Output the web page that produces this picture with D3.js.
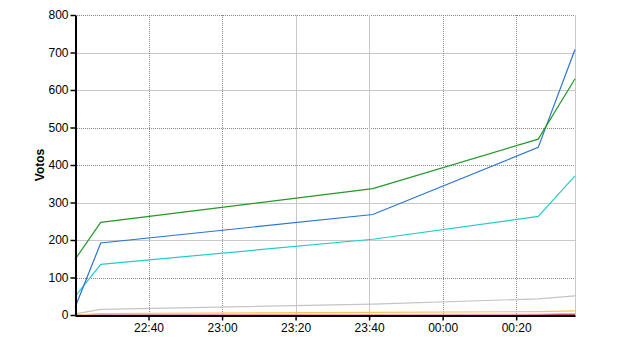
<!DOCTYPE html>
<html>
<head>
<meta charset="utf-8">
<script src="https://cdn.jsdelivr.net/npm/d3@7"></script>
<style>
  body { margin: 0; background: #fff; }
  text { font-family: Arial, "Liberation Sans", sans-serif; }
  .tick text { font-size: 12px; fill: #000; }
  .axis-label { font-size: 12px; font-weight: bold; }
</style>
</head>
<body>
<div id="vis"></div>
<script>
'use strict'

// sample times (hh:mm, past midnight rolls over)
const times = ['22:20', '22:27', '23:41', '00:26', '00:36']

const seriesNames = ['verde', 'azul', 'ciano', 'cinza', 'laranja', 'rosa', 'vermelho']
const seriesColors = ['#22992a', '#2a74d0', '#22cccc', '#c4c4c4', '#ffc450', '#f0a0c8', '#b0203c']

const verde = [148, 247, 337, 469, 630]
const azul = [20, 192, 268, 447, 708]
const ciano = [49, 135, 202, 263, 371]
const cinza = [3, 15, 29, 43, 51]
const laranja = [0, 4, 7, 9, 11]
const rosa = [0, 0, 1, 2, 4]
const vermelho = [0, 0, 0, 1, 2]

const yTicks = [0, 100, 200, 300, 400, 500, 600, 700, 800]
const xTickLabels = ['22:40', '23:00', '23:20', '23:40', '00:00', '00:20']

function parseTime(s) {
  const [h, m] = s.split(':').map(Number)
  const day = h < 12 ? 2 : 1
  return new Date(2000, 0, day, h, m)
}

const dates = times.map(parseTime)
const allValues = [verde, azul, ciano, cinza, laranja, rosa, vermelho]

drawChart()

function drawChart() {

  const totalWidth = 640
  const totalHeight = 350
  const margin = { top: 15, right: 65, bottom: 35, left: 75 }
  const width = totalWidth - margin.left - margin.right
  const height = totalHeight - margin.top - margin.bottom

  const x = d3.scaleTime()
    .domain(d3.extent(dates))
    .range([0, width])

  const y = d3.scaleLinear()
    .domain([0, 800])
    .range([height, 0])

  const svg = d3.select('div#vis')
    .append('svg')
      .attr('width', totalWidth)
      .attr('height', totalHeight)

  const inner = svg.append('g')
    .attr('transform', 'translate(' + margin.left + ',' + margin.top + ')')

  //
  // GRID
  //

  const dotted = { stroke: '#8a8a8a', dash: '1,1' }
  const solid = { stroke: '#c8c8c8', dash: null }

  yTicks.slice(1).forEach((v, i) => {
    const st = (Math.floor((i + 1) / 2) % 2 === 1) ? solid : dotted
    inner.append('line')
      .attr('x1', 0).attr('x2', width)
      .attr('y1', Math.round(y(v)) + 0.5).attr('y2', Math.round(y(v)) + 0.5)
      .attr('stroke', st.stroke)
      .attr('stroke-dasharray', st.dash)
  })

  const xTickDates = xTickLabels.map(parseTime)
  xTickDates.forEach((d, i) => {
    const st = (Math.floor(i / 2) % 2 === 1) ? solid : dotted
    inner.append('line')
      .attr('x1', Math.round(x(d)) + 0.5).attr('x2', Math.round(x(d)) + 0.5)
      .attr('y1', 0).attr('y2', height)
      .attr('stroke', st.stroke)
      .attr('stroke-dasharray', st.dash)
  })

  inner.append('line') // right border
    .attr('x1', width + 0.5).attr('x2', width + 0.5)
    .attr('y1', 0).attr('y2', height)
    .attr('stroke', solid.stroke)

  //
  // LINES
  //

  const line = d3.line()
    .x((d, i) => x(dates[i]))
    .y(d => y(d))

  allValues.slice().reverse().forEach((vals, j) => {
    const k = allValues.length - 1 - j
    inner.append('path')
      .datum(vals)
      .attr('fill', 'none')
      .attr('stroke', seriesColors[k])
      .attr('stroke-width', 1.2)
      .attr('d', line)
      .append('title').text(seriesNames[k])
  })

  //
  // AXES
  //

  const yAxis = d3.axisLeft(y)
    .tickValues(yTicks)
    .tickSize(5)
    .tickSizeOuter(0)

  inner.append('g')
    .attr('transform', 'translate(0.5,0)')
    .call(yAxis)
    .call(g => g.select('.domain').attr('stroke', '#000').attr('stroke-width', 2))
    .call(g => g.selectAll('.tick line').attr('stroke', '#000').attr('stroke-width', 1.5))
    .call(g => g.selectAll('.tick text').attr('x', -7))

  const xAxis = d3.axisBottom(x)
    .tickValues(xTickDates)
    .tickFormat(d3.timeFormat('%H:%M'))
    .tickSize(5)
    .tickSizeOuter(0)

  inner.append('g')
    .attr('transform', 'translate(0,' + (height + 0.5) + ')')
    .call(xAxis)
    .call(g => g.select('.domain').attr('stroke', '#000').attr('stroke-width', 2))
    .call(g => g.selectAll('.tick line').attr('stroke', '#000').attr('stroke-width', 1.5))
    .call(g => g.selectAll('.tick text').attr('y', 8))

  svg.append('text')
    .classed('axis-label', true)
    .attr('transform', 'translate(' + 44 + ',' + (margin.top + y(400)) + ') rotate(-90)')
    .attr('text-anchor', 'middle')
    .text('Votos')

}
</script>
</body>
</html>
